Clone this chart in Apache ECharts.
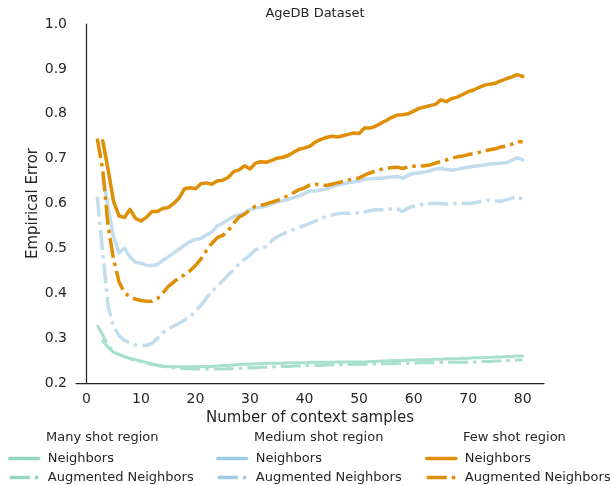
<!DOCTYPE html>
<html>
<head>
<meta charset="utf-8">
<script src="https://cdn.jsdelivr.net/npm/echarts@6.0.0/dist/echarts.min.js"></script>
<style>
  html, body { margin: 0; padding: 0; background: #fff; }
  #chart { width: 610px; height: 485px; }
</style>
</head>
<body>
<div id="chart"></div>
<script>
// number of context samples (x)
const samples = [2, 3, 4, 5, 6, 7, 8, 9, 10, 11, 12, 13, 14, 15, 16, 17, 18, 19, 20,
  21, 22, 23, 24, 25, 26, 27, 28, 29, 30, 31, 32, 33, 34, 35, 36, 37, 38, 39, 40,
  41, 42, 43, 44, 45, 46, 47, 48, 49, 50, 51, 52, 53, 54, 55, 56, 57, 58, 59, 60,
  61, 62, 63, 64, 65, 66, 67, 68, 69, 70, 71, 72, 73, 74, 75, 76, 77, 78, 79, 80];

const xTicks = [0, 10, 20, 30, 40, 50, 60, 70, 80];

// many shot region
const manyNeighbors = [null, 0.294, 0.279, 0.268, 0.263, 0.259, 0.255, 0.252, 0.249, 0.246,
  0.243, 0.240, 0.238, 0.237, 0.236, 0.236, 0.236, 0.236, 0.236, 0.237,
  0.237, 0.237, 0.238, 0.239, 0.239, 0.240, 0.241, 0.242, 0.242, 0.243,
  0.243, 0.244, 0.244, 0.244, 0.244, 0.245, 0.245, 0.245, 0.245, 0.246,
  0.246, 0.246, 0.246, 0.246, 0.247, 0.247, 0.247, 0.247, 0.247, 0.247,
  0.248, 0.248, 0.249, 0.249, 0.250, 0.250, 0.250, 0.251, 0.251, 0.252,
  0.252, 0.252, 0.253, 0.253, 0.254, 0.254, 0.254, 0.255, 0.255, 0.256,
  0.256, 0.257, 0.257, 0.258, 0.258, 0.259, 0.259, 0.260, 0.260];
const manyAugmented = [0.329, 0.307, 0.284, 0.270, 0.264, 0.259, 0.254, 0.250, 0.247, 0.244,
  0.241, 0.239, 0.237, 0.235, 0.234, 0.233, 0.232, 0.232, 0.231, 0.231,
  0.231, 0.231, 0.231, 0.231, 0.232, 0.232, 0.233, 0.233, 0.234, 0.234,
  0.235, 0.235, 0.236, 0.236, 0.237, 0.237, 0.238, 0.238, 0.238, 0.239,
  0.239, 0.239, 0.240, 0.240, 0.240, 0.241, 0.241, 0.241, 0.242, 0.242,
  0.242, 0.243, 0.243, 0.243, 0.243, 0.244, 0.244, 0.244, 0.244, 0.245,
  0.245, 0.245, 0.245, 0.246, 0.246, 0.246, 0.246, 0.246, 0.247, 0.247,
  0.247, 0.248, 0.248, 0.249, 0.249, 0.250, 0.250, 0.251, 0.251];

// medium shot region
const mediumNeighbors = [null, 0.663, 0.590, 0.525, 0.490, 0.500, 0.481, 0.469, 0.467, 0.462,
  0.462, 0.464, 0.473, 0.481, 0.490, 0.498, 0.507, 0.515, 0.520, 0.522,
  0.530, 0.536, 0.550, 0.556, 0.564, 0.571, 0.575, 0.579, 0.586, 0.590,
  0.592, 0.594, 0.599, 0.603, 0.606, 0.609, 0.613, 0.617, 0.622, 0.628,
  0.628, 0.630, 0.632, 0.637, 0.641, 0.644, 0.646, 0.648, 0.650, 0.654,
  0.655, 0.656, 0.656, 0.658, 0.659, 0.660, 0.656, 0.663, 0.667, 0.668,
  0.670, 0.673, 0.677, 0.678, 0.676, 0.674, 0.676, 0.679, 0.681, 0.683,
  0.684, 0.686, 0.688, 0.689, 0.690, 0.691, 0.696, 0.702, 0.697];
const mediumAugmented = [0.615, 0.490, 0.370, 0.325, 0.305, 0.295, 0.290, 0.285, 0.283, 0.284,
  0.288, 0.299, 0.312, 0.320, 0.327, 0.333, 0.340, 0.348, 0.360, 0.373,
  0.389, 0.404, 0.416, 0.428, 0.441, 0.452, 0.466, 0.476, 0.485, 0.497,
  0.501, 0.504, 0.517, 0.526, 0.532, 0.537, 0.542, 0.547, 0.551, 0.556,
  0.561, 0.567, 0.571, 0.574, 0.577, 0.578, 0.578, 0.579, 0.579, 0.581,
  0.584, 0.586, 0.586, 0.587, 0.588, 0.588, 0.582, 0.590, 0.594, 0.597,
  0.599, 0.600, 0.600, 0.600, 0.599, 0.599, 0.600, 0.600, 0.600, 0.601,
  0.604, 0.607, 0.608, 0.606, 0.605, 0.608, 0.612, 0.615, 0.609];

// few shot region
const fewNeighbors = [null, 0.740, 0.675, 0.604, 0.572, 0.569, 0.587, 0.567, 0.561, 0.569,
  0.582, 0.582, 0.589, 0.591, 0.600, 0.612, 0.633, 0.635, 0.633, 0.644,
  0.646, 0.643, 0.650, 0.652, 0.658, 0.671, 0.675, 0.684, 0.677, 0.690,
  0.693, 0.692, 0.696, 0.701, 0.703, 0.707, 0.714, 0.721, 0.724, 0.728,
  0.737, 0.743, 0.747, 0.750, 0.748, 0.751, 0.754, 0.757, 0.756, 0.768,
  0.768, 0.772, 0.779, 0.785, 0.792, 0.797, 0.798, 0.800, 0.806, 0.812,
  0.815, 0.818, 0.821, 0.831, 0.827, 0.834, 0.837, 0.843, 0.849, 0.853,
  0.859, 0.864, 0.866, 0.868, 0.873, 0.878, 0.882, 0.887, 0.883];
const fewAugmented = [0.745, 0.675, 0.548, 0.475, 0.425, 0.401, 0.392, 0.387, 0.384, 0.382,
  0.382, 0.388, 0.400, 0.415, 0.425, 0.434, 0.441, 0.450, 0.462, 0.476,
  0.495, 0.511, 0.524, 0.529, 0.539, 0.556, 0.570, 0.576, 0.586, 0.594,
  0.596, 0.599, 0.603, 0.607, 0.612, 0.618, 0.624, 0.631, 0.635, 0.641,
  0.643, 0.641, 0.640, 0.643, 0.646, 0.649, 0.652, 0.655, 0.657, 0.663,
  0.668, 0.672, 0.676, 0.678, 0.680, 0.681, 0.678, 0.682, 0.683, 0.683,
  0.684, 0.686, 0.690, 0.694, 0.697, 0.701, 0.704, 0.706, 0.709, 0.711,
  0.714, 0.717, 0.720, 0.722, 0.726, 0.728, 0.732, 0.738, 0.737];

const regions = ['Many shot region', 'Medium shot region', 'Few shot region'];
const lineColors = ['#a9e0cc', '#c2ddee', '#de8f05'];
const handleColors = ['#96d7c0', '#a0cbe4', '#de8f05'];
const legendLeft = [8, 216, 425];
const dashDot = [20, 5, 3.5, 5];
const textColor = '#262626';
const font = 'DejaVu Sans';

var chartDom = document.getElementById('chart');
var myChart = echarts.init(chartDom);

const pairs = arr => samples.map((x, i) => [x, arr[i]]);

const seriesData = [
  [manyNeighbors, manyAugmented],
  [mediumNeighbors, mediumAugmented],
  [fewNeighbors, fewAugmented]
];

var series = [];
seriesData.forEach((group, g) => {
  series.push({
    name: g + '|Neighbors',
    type: 'line',
    symbol: 'none',
    data: pairs(group[0]),
    lineStyle: { color: lineColors[g], width: g === 0 ? 3 : 3.5, cap: 'round', join: 'round' },
    itemStyle: { color: lineColors[g] },
    z: 2 + g
  });
  series.push({
    name: g + '|Augmented Neighbors',
    type: 'line',
    symbol: 'none',
    data: pairs(group[1]),
    lineStyle: { color: lineColors[g], width: g === 0 ? 3 : 3.5, type: dashDot },
    itemStyle: { color: lineColors[g] },
    z: 2 + g
  });
});

// one legend column per region, the symbol dot is hidden so only the line shows
var legends = regions.map((r, g) => ({
  orient: 'vertical',
  left: legendLeft[g],
  top: 452,
  padding: 0,
  itemWidth: 29,
  itemHeight: 14,
  itemGap: 6,
  selectedMode: false,
  data: [g + '|Neighbors', g + '|Augmented Neighbors'],
  formatter: name => name.split('|')[1],
  lineStyle: { color: handleColors[g], width: 3.5 },
  itemStyle: { opacity: 0 },
  textStyle: { fontFamily: font, fontSize: 13, color: textColor, padding: [0, 0, 0, 4] }
}));

var option = {
  animation: false,
  title: {
    text: 'AgeDB Dataset',
    left: 310,
    textAlign: 'center',
    top: 2,
    textStyle: { fontFamily: font, fontSize: 13, fontWeight: 'normal', color: textColor }
  },
  grid: { left: 76, right: 66, top: 24, bottom: 102 },
  legend: legends,
  graphic: regions.map((r, g) => ({
    type: 'text',
    left: legendLeft[g] + 38,
    top: 431,
    style: { text: r, font: '13px "DejaVu Sans"', fill: textColor }
  })),
  xAxis: {
    type: 'value',
    min: -1.9,
    max: 83.9,
    name: 'Number of context samples',
    nameLocation: 'middle',
    nameGap: 24,
    nameTextStyle: { fontFamily: font, fontSize: 15, color: textColor },
    axisLine: { lineStyle: { color: textColor, width: 1.25 } },
    axisTick: { show: false },
    splitLine: { show: false },
    axisLabel: {
      customValues: xTicks,
      margin: 9,
      fontFamily: font,
      fontSize: 14,
      color: textColor
    }
  },
  yAxis: {
    type: 'value',
    min: 0.2,
    max: 1.0,
    interval: 0.1,
    name: 'Empirical Error',
    nameLocation: 'middle',
    nameGap: 35,
    nameMoveOverlap: false,
    nameTextStyle: { fontFamily: font, fontSize: 15, color: textColor },
    axisLine: { show: true, lineStyle: { color: textColor, width: 1.25 } },
    axisTick: { show: false },
    splitLine: { show: false },
    axisLabel: {
      margin: 9,
      fontFamily: font,
      fontSize: 14,
      color: textColor,
      formatter: v => v.toFixed(1)
    }
  },
  series: series
};

myChart.setOption(option);
</script>
</body>
</html>
